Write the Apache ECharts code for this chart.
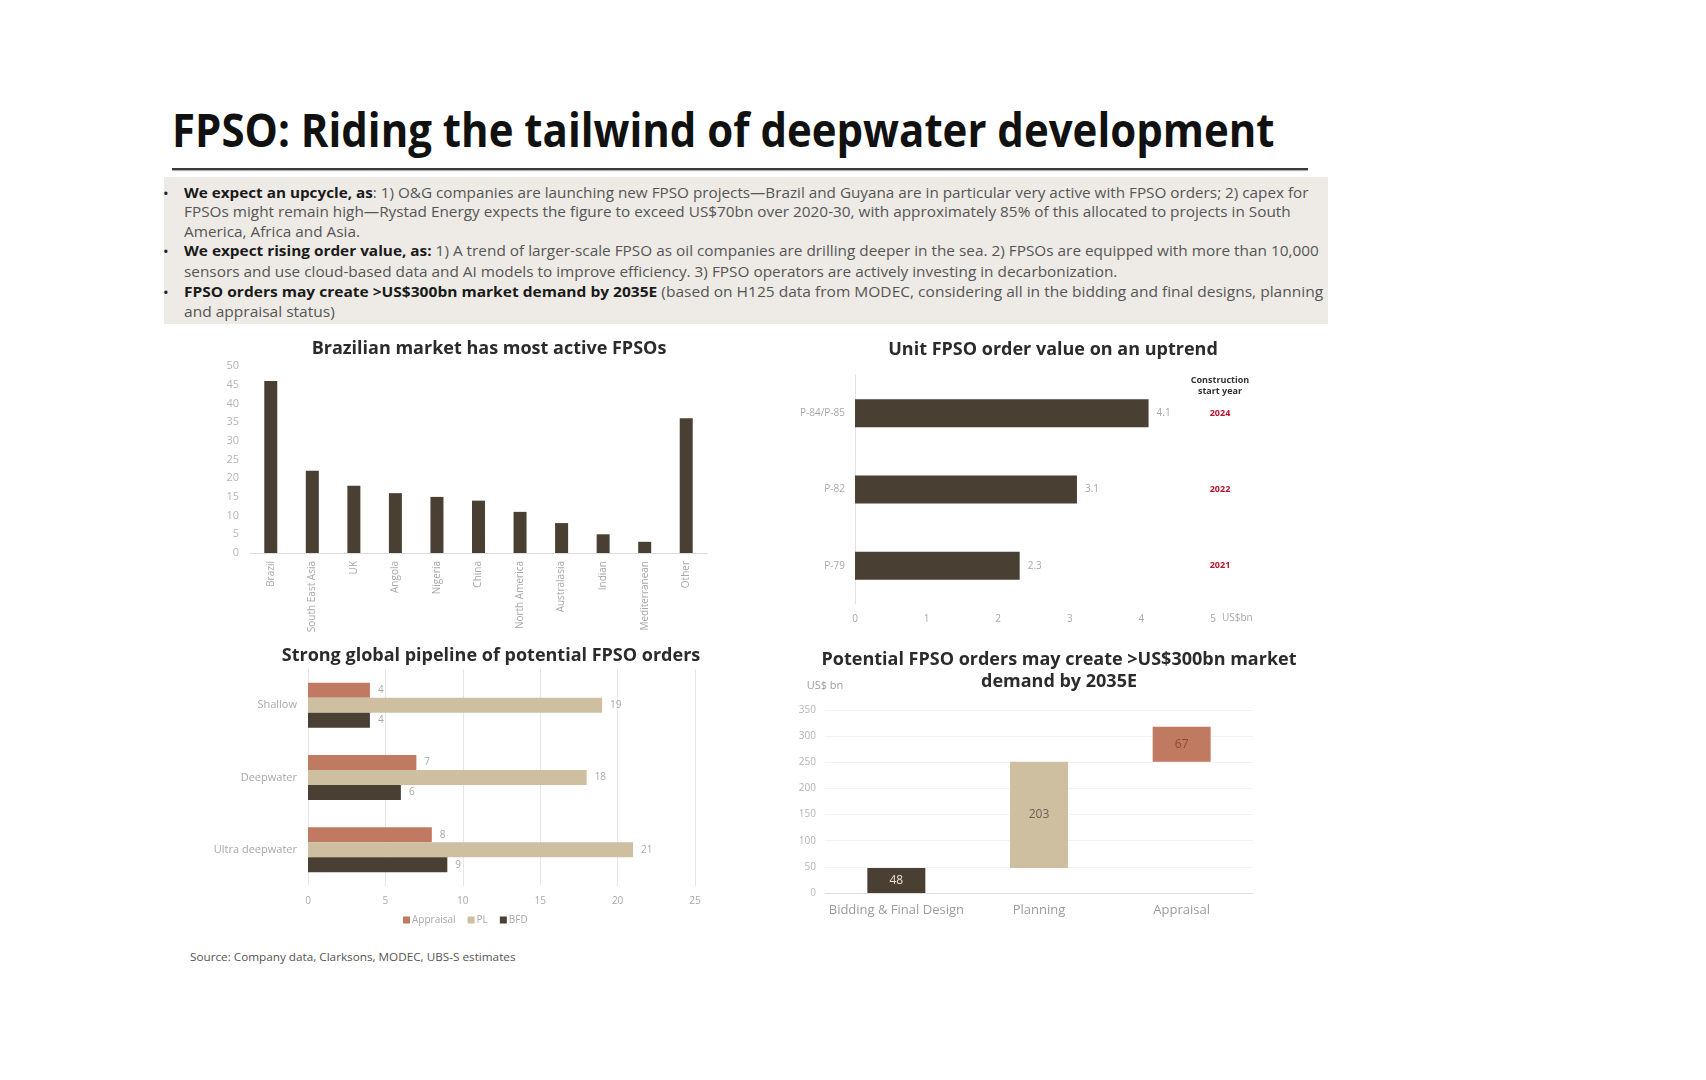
<!DOCTYPE html>
<html>
<head>
<meta charset="utf-8">
<script src="https://cdn.jsdelivr.net/npm/echarts@6/dist/echarts.min.js"></script>
<style>
html, body { margin: 0; padding: 0; background: #fff; }
body { width: 1706px; height: 1080px; position: relative; overflow: hidden; font-family: 'Open Sans', sans-serif; }
#main-title { position: absolute; left: 172px; top: 101px; font-size: 46px; line-height: 56px; font-weight: 700; color: #111; white-space: nowrap; transform-origin: 0 50%; }
#rule { position: absolute; left: 172px; top: 168px; width: 1136px; height: 0; border-top: 2px solid #3b3b3b; box-shadow: 0 1px 1px rgba(0, 0, 0, 0.35); }
#box { position: absolute; left: 164px; top: 177px; width: 1164px; height: 147px; background: #eeebe6; }
.line { position: absolute; left: 184px; white-space: nowrap; font-size: 14px; line-height: 20px; color: #555; transform-origin: 0 50%; }
.line b { color: #1a1a1a; }
.bullet { position: absolute; left: 163px; font-size: 15px; line-height: 20px; color: #222; }
#source { position: absolute; left: 190px; top: 949px; font-size: 11px; line-height: 16px; color: #555; white-space: nowrap; transform-origin: 0 50%; }
#chart { position: absolute; left: 0; top: 0; width: 1706px; height: 1080px; }
</style>
</head>
<body>
<div id="box"></div>
<div id="main-title">FPSO: Riding the tailwind of deepwater development</div>
<div id="rule"></div>

<div class="bullet" style="top:183px">•</div>
<div class="line" style="top:183px" data-w="1124"><b>We expect an upcycle, as</b>: 1) O&amp;G companies are launching new FPSO projects—Brazil and Guyana are in particular very active with FPSO orders; 2) capex for</div>
<div class="line" style="top:202px" data-w="1107">FPSOs might remain high—Rystad Energy expects the figure to exceed US$70bn over 2020-30, with approximately 85% of this allocated to projects in South</div>
<div class="line" style="top:222px">America, Africa and Asia.</div>
<div class="bullet" style="top:241px">•</div>
<div class="line" style="top:241px" data-w="1135"><b>We expect rising order value, as:</b> 1) A trend of larger-scale FPSO as oil companies are drilling deeper in the sea. 2) FPSOs are equipped with more than 10,000</div>
<div class="line" style="top:262px">sensors and use cloud-based data and AI models to improve efficiency. 3) FPSO operators are actively investing in decarbonization.</div>
<div class="bullet" style="top:282px">•</div>
<div class="line" style="top:282px" data-w="1139"><b>FPSO orders may create &gt;US$300bn market demand by 2035E</b> (based on H125 data from MODEC, considering all in the bidding and final designs, planning</div>
<div class="line" style="top:302px">and appraisal status)</div>

<div id="source">Source: Company data, Clarksons, MODEC, UBS-S estimates</div>
<div id="chart"></div>

<script>
// active FPSOs by region
const regions = ['Brazil', 'South East Asia', 'UK', 'Angola', 'Nigeria', 'China', 'North America', 'Australasia', 'Indian', 'Mediterranean', 'Other']
const activeFpsos = [46, 22, 18, 16, 15, 14, 11, 8, 5, 3, 36]

// unit order value, US$bn
const projects = ['P-84/P-85', 'P-82', 'P-79']
const orderValue = [4.1, 3.1, 2.3]
const startYears = ['2024', '2022', '2021']

// pipeline by water depth
const waterDepths = ['Shallow', 'Deepwater', 'Ultra deepwater']
const appraisal = [4, 7, 8]
const planning = [19, 18, 21]
const biddingFinal = [4, 6, 9]

// market demand by stage, US$bn
const stages = ['Bidding & Final Design', 'Planning', 'Appraisal']
const stageValue = [48, 203, 67]

const DARK = '#4a3f33'
const SALMON = '#c07a62'
const BEIGE = '#cdbf9f'
const LABEL = '#a8a8a8'
const FONT = "'Open Sans', sans-serif"
const stageColors = [DARK, BEIGE, SALMON]
const stageLabelColors = ['#e8e2da', '#6b6255', '#8a4a3a']

// squeeze text lines to the widths seen in the reference
function fitText() {
  const t = document.getElementById('main-title')
  t.style.transform = 'none'
  t.style.transform = 'scaleX(' + (1103 / t.scrollWidth) + ')'
  let s = 1
  document.querySelectorAll('.line').forEach((el) => {
    el.style.transform = 'none'
    if (el.dataset.w) s = Number(el.dataset.w) / el.scrollWidth
    el.style.transform = 'scaleX(' + s + ')'
  })
  const src = document.getElementById('source')
  src.style.transform = 'none'
  src.style.transform = 'scaleX(' + (326 / src.scrollWidth) + ')'
}
fitText()
if (document.fonts) document.fonts.ready.then(fitText)

const stageBase = stageValue.map((v, i) => stageValue.slice(0, i).reduce((a, b) => a + b, 0))

const titleStyle = { fontFamily: FONT, fontSize: 18, fontWeight: 'bold', color: '#2b2b2b', lineHeight: 22 }

const chart = echarts.init(document.getElementById('chart'))
chart.setOption({
  animation: false,
  textStyle: { fontFamily: FONT },
  title: [
    { text: 'Brazilian market has most active FPSOs', left: 484, top: 333, textAlign: 'center', textStyle: titleStyle },
    { text: 'Unit FPSO order value on an uptrend', left: 1048, top: 334, textAlign: 'center', textStyle: titleStyle },
    { text: 'Strong global pipeline of potential FPSO orders', left: 486, top: 640, textAlign: 'center', textStyle: titleStyle },
    { text: 'Potential FPSO orders may create >US$300bn market\ndemand by 2035E', left: 1054, top: 644, textAlign: 'center', textStyle: titleStyle },
  ],
  legend: {
    data: ['Appraisal', 'PL', 'BFD'],
    left: 398,
    top: 910,
    icon: 'rect',
    itemWidth: 7,
    itemHeight: 7,
    itemGap: 12,
    textStyle: { color: LABEL, fontSize: 10, padding: [0, 0, 0, -3] },
  },
  grid: [
    { left: 250, top: 366, width: 457, height: 187 },
    { left: 855, top: 375, width: 358, height: 229 },
    { left: 308, top: 669, width: 387, height: 217 },
    { left: 825, top: 710, width: 428, height: 183 },
  ],
  xAxis: [
    {
      gridIndex: 0, type: 'category', data: regions,
      axisLine: { lineStyle: { color: '#dcdcdc' } }, axisTick: { show: false },
      axisLabel: { rotate: 90, interval: 0, color: LABEL, fontSize: 10, margin: 8 },
    },
    {
      gridIndex: 1, type: 'value', min: 0, max: 5, interval: 1,
      axisLine: { show: false }, axisTick: { show: false }, splitLine: { show: false },
      axisLabel: { color: LABEL, fontSize: 10, margin: 10 },
    },
    {
      gridIndex: 2, type: 'value', min: 0, max: 25, interval: 5,
      axisLine: { show: false }, axisTick: { show: false },
      splitLine: { lineStyle: { color: '#e6e6e6' } },
      axisLabel: { color: LABEL, fontSize: 10, margin: 10 },
    },
    {
      gridIndex: 3, type: 'category', data: stages,
      axisLine: { lineStyle: { color: '#dddddd' } }, axisTick: { show: false },
      axisLabel: { interval: 0, color: '#9c9c9c', fontSize: 13, margin: 11 },
    },
  ],
  yAxis: [
    {
      gridIndex: 0, type: 'value', min: 0, max: 50, interval: 5,
      axisLine: { show: false }, axisTick: { show: false }, splitLine: { show: false },
      axisLabel: { color: '#b4b4b4', fontSize: 11, margin: 11 },
    },
    {
      gridIndex: 1, type: 'category', data: projects, inverse: true,
      axisLine: { lineStyle: { color: '#e0e0e0' } }, axisTick: { show: false },
      axisLabel: { color: LABEL, fontSize: 10, margin: 10 },
    },
    {
      gridIndex: 2, type: 'category', data: waterDepths, inverse: true,
      axisLine: { show: false }, axisTick: { show: false },
      axisLabel: { color: LABEL, fontSize: 11, margin: 11 },
    },
    {
      gridIndex: 3, type: 'value', min: 0, max: 350, interval: 50,
      name: 'US$ bn', nameGap: 19,
      nameTextStyle: { color: '#9c9c9c', fontSize: 11 },
      axisLine: { show: false }, axisTick: { show: false },
      splitLine: { lineStyle: { color: '#f3f3f3' } },
      axisLabel: { color: '#b4b4b4', fontSize: 10, margin: 9 },
    },
  ],
  series: [
    {
      type: 'bar', xAxisIndex: 0, yAxisIndex: 0, data: activeFpsos,
      barWidth: 13, itemStyle: { color: DARK },
    },
    {
      type: 'bar', xAxisIndex: 1, yAxisIndex: 1, data: orderValue,
      barWidth: 28, itemStyle: { color: DARK },
      label: { show: true, position: 'right', distance: 8, color: LABEL, fontSize: 10 },
    },
    {
      name: 'Appraisal', type: 'bar', xAxisIndex: 2, yAxisIndex: 2, data: appraisal,
      barWidth: 15, barGap: '0%', itemStyle: { color: SALMON },
      label: { show: true, position: 'right', distance: 8, color: LABEL, fontSize: 10 },
    },
    {
      name: 'PL', type: 'bar', xAxisIndex: 2, yAxisIndex: 2, data: planning,
      barWidth: 15, barGap: '0%', itemStyle: { color: BEIGE },
      label: { show: true, position: 'right', distance: 8, color: LABEL, fontSize: 10 },
    },
    {
      name: 'BFD', type: 'bar', xAxisIndex: 2, yAxisIndex: 2, data: biddingFinal,
      barWidth: 15, barGap: '0%', itemStyle: { color: DARK },
      label: { show: true, position: 'right', distance: 8, color: LABEL, fontSize: 10 },
    },
    {
      name: 'base', type: 'bar', xAxisIndex: 3, yAxisIndex: 3, stack: 'fall', data: stageBase,
      barWidth: 58, itemStyle: { color: 'transparent' }, silent: true,
    },
    {
      name: 'stage', type: 'bar', xAxisIndex: 3, yAxisIndex: 3, stack: 'fall',
      barWidth: 58,
      data: stageValue.map((v, i) => ({
        value: v,
        itemStyle: { color: stageColors[i] },
        label: { color: stageLabelColors[i] },
      })),
      label: { show: true, position: 'inside', fontSize: 12 },
    },
  ],
})

// construction start year column beside the unit order value bars
const yearTexts = startYears.map((yr, i) => ({
  type: 'text',
  x: 1220,
  y: chart.convertToPixel({ yAxisIndex: 1 }, projects[i]),
  style: { text: yr, fill: '#b8142f', font: 'bold 9px ' + FONT, textAlign: 'center', textVerticalAlign: 'middle' },
}))
chart.setOption({
  graphic: [
    {
      type: 'text', x: 1220, y: 386,
      style: { text: 'Construction\nstart year', fill: '#333', font: 'bold 9px ' + FONT, textAlign: 'center', textVerticalAlign: 'middle', lineHeight: 11 },
    },
    {
      type: 'text', x: 1222, y: 618,
      style: { text: 'US$bn', fill: LABEL, font: '10px ' + FONT, textAlign: 'left', textVerticalAlign: 'middle' },
    },
    ...yearTexts,
  ],
})
</script>
</body>
</html>
